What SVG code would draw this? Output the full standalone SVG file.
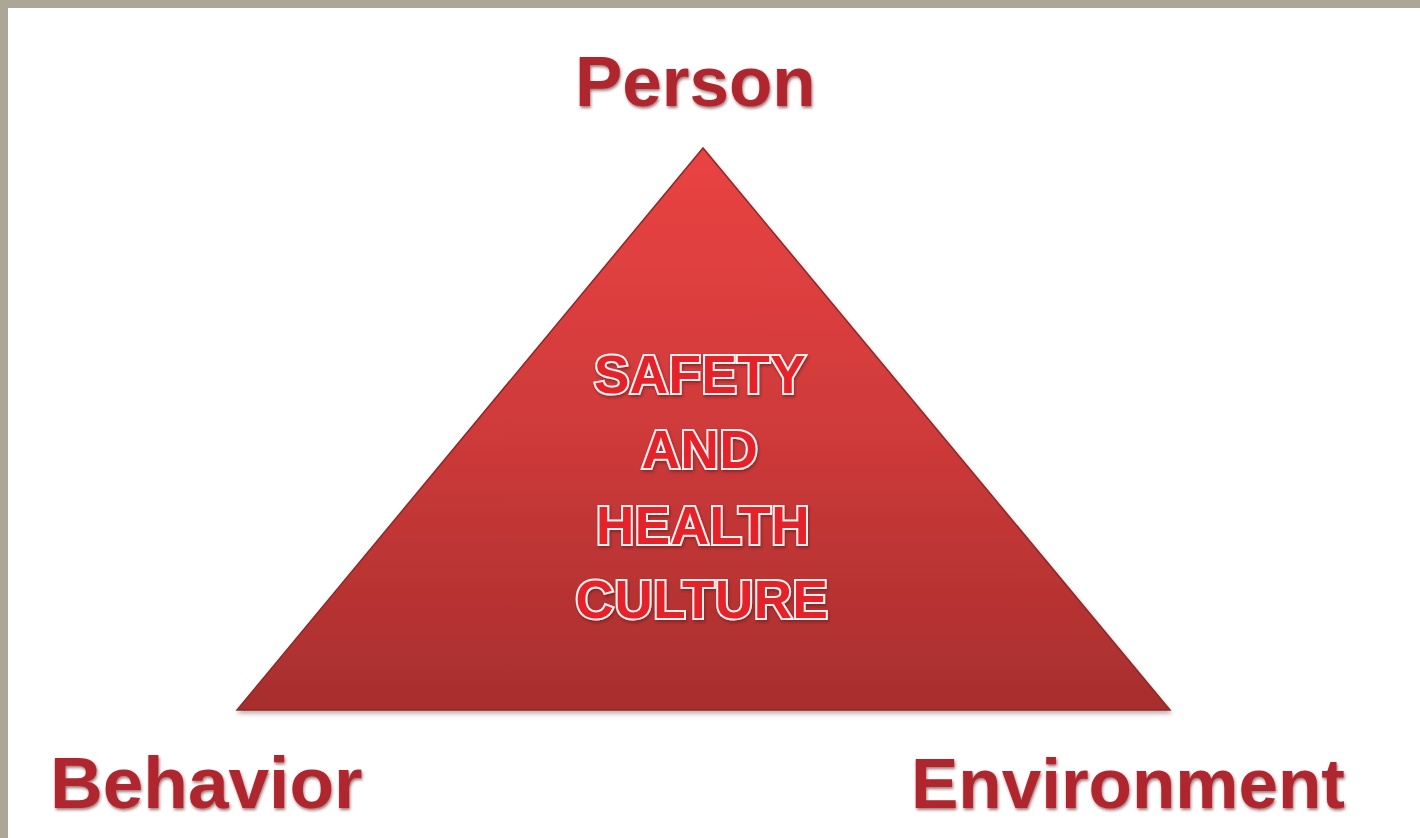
<svg xmlns="http://www.w3.org/2000/svg" width="1420" height="838" viewBox="0 0 1420 838">
<style>
.lbl{font-family:"Liberation Sans",Arial,sans-serif;font-weight:bold;fill:#b0262f;}
.ctr{font-family:"Liberation Sans",Arial,sans-serif;font-weight:bold;font-size:53px;fill:#e3222a;stroke:#fff0f0;stroke-width:4;paint-order:stroke;text-anchor:middle;letter-spacing:0.5px;}
</style>
<defs>
<linearGradient id="tri" x1="0" y1="0" x2="0" y2="1">
<stop offset="0" stop-color="#ea4343"/>
<stop offset="0.5" stop-color="#cf3a3a"/>
<stop offset="1" stop-color="#a82e2e"/>
</linearGradient>
<filter id="sh" x="-10%" y="-10%" width="120%" height="130%">
<feDropShadow dx="1" dy="3" stdDeviation="2" flood-color="#7a5050" flood-opacity="0.45"/>
</filter>
<filter id="tsh" x="-10%" y="-10%" width="120%" height="130%">
<feDropShadow dx="1" dy="2" stdDeviation="1.5" flood-color="#5a2020" flood-opacity="0.6"/>
</filter>
</defs>
<rect x="0" y="0" width="1420" height="838" fill="#ada595"/>
<rect x="8" y="8" width="1412" height="830" fill="#ffffff"/>
<g id="triangle" filter="url(#sh)">
<polygon points="703,148 237,710 1170,710" fill="url(#tri)" stroke="#8a2a2a" stroke-width="1.5" stroke-linejoin="miter"/>
<g id="center-text" filter="url(#tsh)">
<text class="ctr" x="700" y="393">SAFETY</text>
<text class="ctr" x="700" y="468">AND</text>
<text class="ctr" x="703" y="544">HEALTH</text>
<text class="ctr" x="702" y="618">CULTURE</text>
</g>
</g>
<g id="person" filter="url(#tsh)">
<text class="lbl" x="575" y="106" font-size="71">Person</text>
</g>
<g id="behavior" filter="url(#tsh)">
<text class="lbl" x="50" y="808" font-size="73">Behavior</text>
</g>
<g id="environment" filter="url(#tsh)">
<text class="lbl" x="911" y="808" font-size="71">Environment</text>
</g>
<g id="connectors"></g>
</svg>
